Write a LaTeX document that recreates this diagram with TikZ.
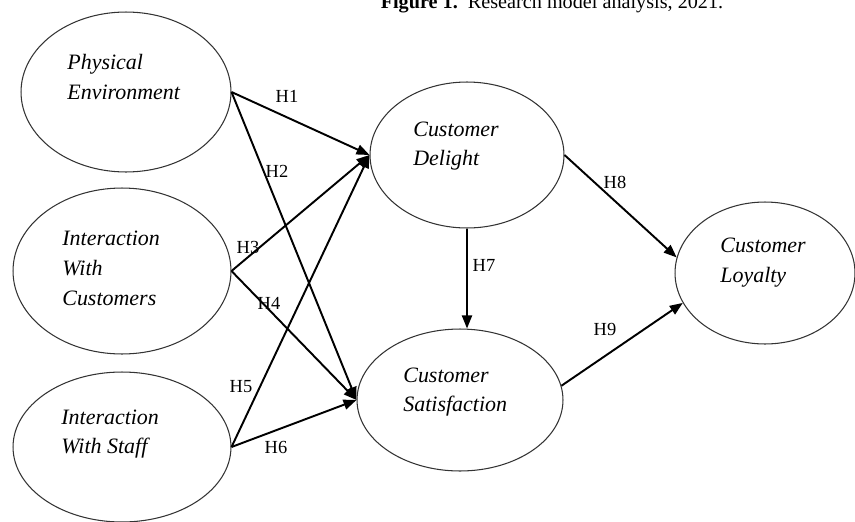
\documentclass[tikz,border=0pt]{standalone}
\usepackage{fontspec}
\setmainfont{Liberation Serif}
\usepackage{tikz}
\usetikzlibrary{shapes,arrows,arrows.meta,positioning,calc}

\begin{document}
\begin{tikzpicture}[x=0.02cm, y=-0.02cm,
    construct/.style={draw=black!80, line width=0.6pt, ellipse, inner sep=0pt},
    ctext/.style={anchor=west, inner sep=0pt, align=left,
      font=\fontsize{12.5}{17}\selectfont\itshape},
    hyp/.style={draw, line width=1.1pt, -{Triangle[length=2.6mm, width=2mm]}},
    hlabel/.style={inner sep=0pt, font=\fontsize{10.5}{12}\selectfont}]
    \useasboundingbox (0,0) rectangle (855,521);
    % Caption, cut at the top edge as in the source
    \node[anchor=base, font=\fontsize{11.5}{13}\selectfont] (caption) at (552, 8)
      {\textbf{Figure 1.}\ \ Research model analysis, 2021.};
    % Exogenous constructs (left column)
    \node[construct, minimum width=4.2cm, minimum height=3.2cm] (pe) at (126, 92) {};
    \node[ctext] (pe-t) at (67, 77) {Physical\\Environment};
    \node[construct, minimum width=4.36cm, minimum height=3.32cm] (iwc) at (122, 271) {};
    \node[ctext] (iwc-t) at (62, 268) {Interaction\\With\\Customers};
    \node[construct, minimum width=4.36cm, minimum height=3.0cm] (iws) at (122, 447) {};
    \node[ctext] (iws-t) at (61, 434) {Interaction\\With Staff};
    % Mediators
    \node[construct, minimum width=3.88cm, minimum height=2.92cm] (cd) at (467, 155) {};
    \node[ctext] (cd-t) at (413, 146) {Customer\\Delight};
    \node[construct, minimum width=4.12cm, minimum height=2.84cm] (cs) at (460, 400) {};
    \node[ctext] (cs-t) at (403, 392) {Customer\\Satisfaction};
    % Outcome
    \node[construct, minimum width=3.6cm, minimum height=2.84cm] (cl) at (765, 273) {};
    \node[ctext] (cl-t) at (720, 263) {Customer\\Loyalty};
    % Hypothesised paths
    \draw[hyp] (pe.east) -- (cd.west);
    \draw[hyp] (pe.east) -- (cs.west);
    \draw[hyp] (iwc.east) -- (cd.west);
    \draw[hyp] (iwc.east) -- (cs.west);
    \draw[hyp] (iws.east) -- (cd.west);
    \draw[hyp] (iws.east) -- (cs.west);
    \draw[hyp] (cd.south) -- (cd.south |- cs.north);
    \draw[hyp] (cd.east) -- (cl.170);
    \draw[hyp] (cs.8) -- (cl.200);
    % Path labels
    \node[hlabel] (h1) at (287, 96) {H1};
    \node[hlabel] (h2) at (277, 171) {H2};
    \node[hlabel] (h3) at (248, 247) {H3};
    \node[hlabel] (h4) at (269, 303) {H4};
    \node[hlabel] (h5) at (241, 387) {H5};
    \node[hlabel] (h6) at (276, 447) {H6};
    \node[hlabel] (h7) at (484, 265) {H7};
    \node[hlabel] (h8) at (615, 182) {H8};
    \node[hlabel] (h9) at (605, 329) {H9};
  \end{tikzpicture}
\end{document}
